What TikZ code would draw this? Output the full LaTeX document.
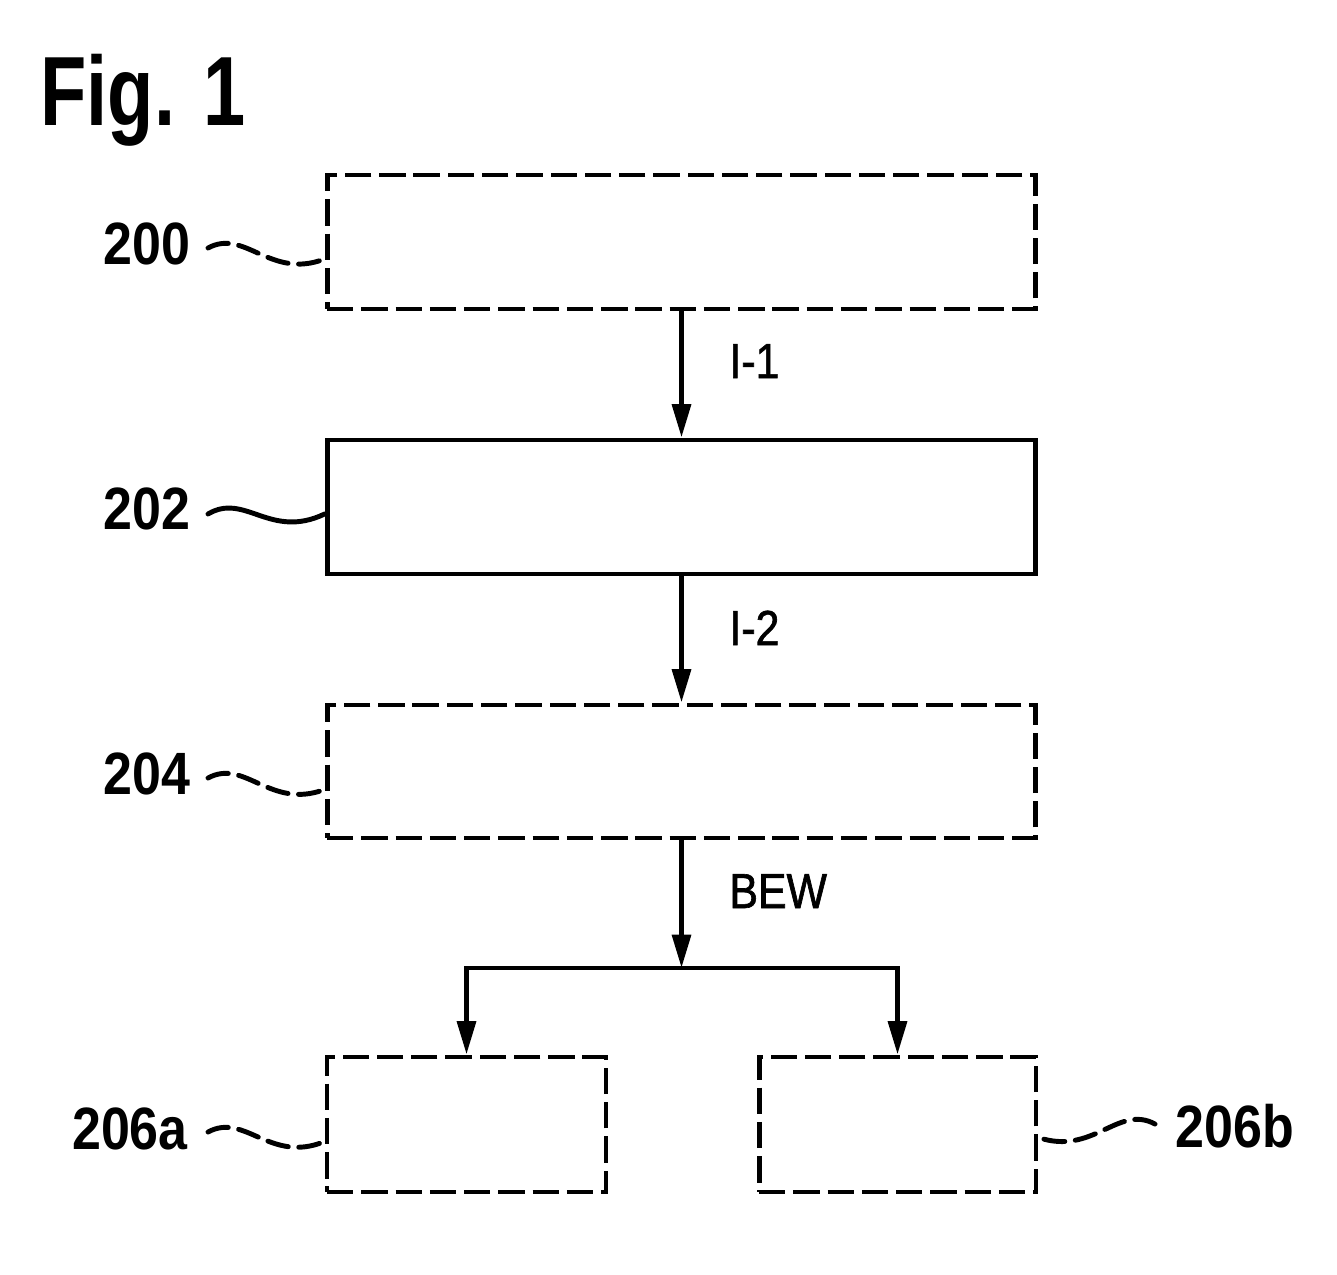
\documentclass[tikz,border=0pt]{standalone}
\usepackage{fontspec}
\setmainfont{Liberation Sans}[FakeStretch=0.87]
\newfontfamily\figfont{Liberation Sans}[FakeStretch=0.77]
\newfontfamily\sigfont{Liberation Sans}[FakeStretch=0.87, FakeBold=1.3]
\usetikzlibrary{arrows.meta,calc}
\begin{document}
\begin{tikzpicture}[x=0.02cm,y=-0.02cm,
  line width=2.8pt,
  box/.style={draw, rectangle, inner sep=0pt, line width=2.8pt},
  dbox/.style={box, dash pattern=on 15pt off 4.5pt},
  arr/.style={-{Triangle[length=19pt,width=10.5pt]}, line width=2.8pt},
  num/.style={anchor=base, inner sep=0pt, font=\fontsize{34}{34}\selectfont\bfseries},
  sig/.style={anchor=base west, inner sep=0pt, font=\sigfont\fontsize{28}{28}\selectfont},
  lead/.style={line width=2.8pt, line cap=round},
  dlead/.style={lead, dash pattern=on 12pt off 6pt}]
\useasboundingbox (0,0) rectangle (1337,1274);

\node[anchor=base west, inner sep=0pt, font=\figfont\fontsize{56}{56}\selectfont\bfseries] (fig) at (38,125) {Fig. 1};

\node[dbox, minimum width=14.18cm, minimum height=2.68cm] (b200) at (681.5,242) {};
\node[box,  minimum width=14.18cm, minimum height=2.68cm] (b202) at (681.5,507) {};
\node[dbox, minimum width=14.18cm, minimum height=2.66cm] (b204) at (681.5,771.5) {};
\node[dbox, minimum width=5.58cm, minimum height=2.70cm] (b206a) at (466.5,1124.5) {};
\node[dbox, minimum width=5.54cm, minimum height=2.70cm] (b206b) at (897.5,1124.5) {};

\node[num] (l200) at (147,264) {200};
\node[num] (l202) at (147,529) {202};
\node[num] (l204) at (147,794) {204};
\node[num] (l206a) at (130,1149) {206a};
\node[num] (l206b) at (1235,1147) {206b};

\node[sig] (t1) at (727,378) {I-1};
\node[sig] (t2) at (727,645) {I-2};
\node[sig] (t3) at (727,908) {BEW};

\coordinate (j) at (681.5,968);
\draw[arr] (b200.south) -- (b202.north);
\draw[arr] (b202.south) -- (b204.north);
\draw[arr] (b204.south) -- (j);
\draw[arr] (j) -| (b206a.north);
\draw[arr] (j) -| (b206b.north);

% leaders
\coordinate (s200) at (208,248);
\coordinate (e200) at ($(b200.west)+(0,17)$);
\draw[dlead] (s200) .. controls (245,228) and (270,280) .. (e200);
\coordinate (s202) at (208,514);
\coordinate (e202) at ($(b202.west)+(0,7)$);
\draw[lead] (s202) .. controls (245,492) and (270,540) .. (e202);
\coordinate (s204) at (208,778);
\coordinate (e204) at ($(b204.west)+(0,18)$);
\draw[dlead] (s204) .. controls (245,758) and (270,810) .. (e204);
\coordinate (s206a) at (208,1132);
\coordinate (e206a) at ($(b206a.west)+(0,17)$);
\draw[dlead] (s206a) .. controls (245,1112) and (270,1164) .. (e206a);
\coordinate (s206b) at (1155,1124);
\coordinate (e206b) at ($(b206b.east)+(0,13)$);
\draw[dlead] (s206b) .. controls (1118,1104) and (1093,1156) .. (e206b);
\end{tikzpicture}
\end{document}
